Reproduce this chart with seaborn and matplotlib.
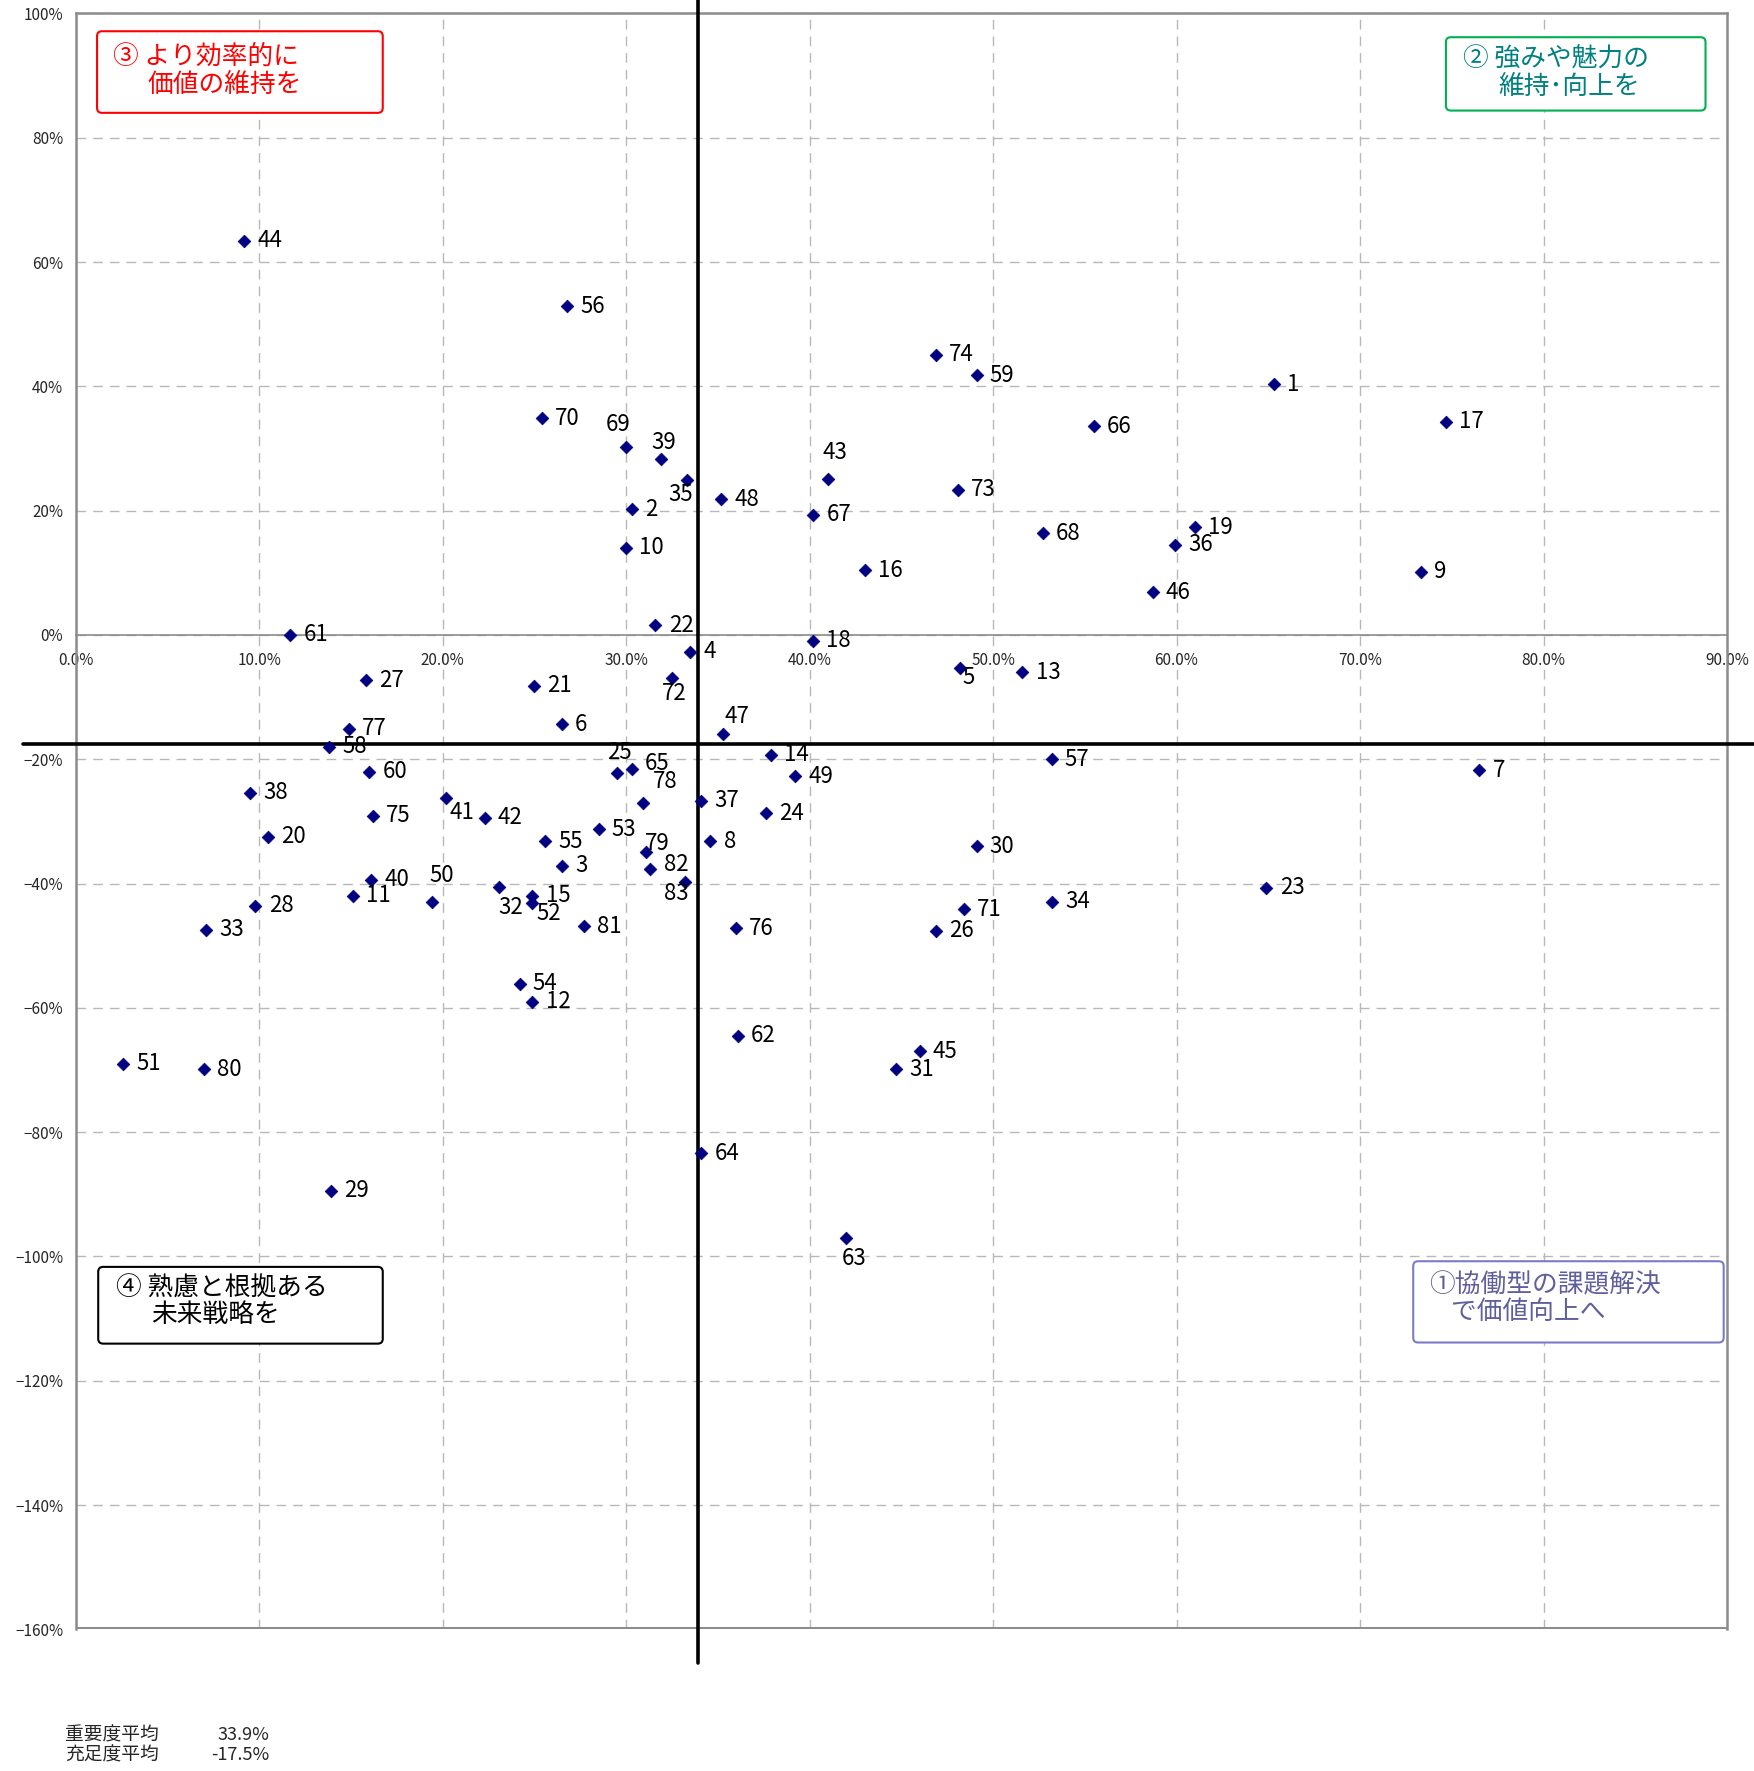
import numpy as np
import pandas as pd
import matplotlib
matplotlib.use("Agg")
import matplotlib.pyplot as plt
import seaborn as sns
from matplotlib.patches import FancyBboxPatch
from matplotlib.ticker import FuncFormatter

# item number, importance (x, %) and satisfaction (y, %)
item_no = list(range(1, 84))
importance = [65.3, 30.3, 26.5, 33.5, 48.2, 26.5, 76.5, 34.6, 73.3, 30.0,
              15.1, 24.9, 51.6, 37.9, 24.9, 43.0, 74.7, 40.2, 61.0, 10.5,
              25.0, 31.6, 64.9, 37.6, 29.5, 46.9, 15.8, 9.8, 13.9, 49.1,
              44.7, 23.1, 7.1, 53.2, 33.3, 59.9, 34.1, 9.5, 31.9, 16.1,
              20.2, 22.3, 41.0, 9.2, 46.0, 58.7, 35.3, 35.2, 39.2, 19.4,
              2.6, 24.9, 28.5, 24.2, 25.6, 26.8, 53.2, 13.8, 49.1, 16.0,
              11.7, 36.1, 42.0, 34.1, 30.3, 55.5, 40.2, 52.7, 30.0, 25.4,
              48.4, 32.5, 48.1, 46.9, 16.2, 36.0, 14.9, 30.9, 31.1, 7.0,
              27.7, 31.3, 33.2]
satisfaction = [40.3, 20.2, -37.1, -2.7, -5.3, -14.4, -21.8, -33.2, 10.2, 14.0,
                -42.0, -59.0, -6.0, -19.3, -42.0, 10.4, 34.3, -0.9, 17.3, -32.5,
                -8.2, 1.6, -40.7, -28.7, -22.2, -47.6, -7.3, -43.6, -89.4, -34.0,
                -69.9, -40.5, -47.4, -42.9, 24.9, 14.5, -26.7, -25.4, 28.3, -39.4,
                -26.3, -29.4, 25.1, 63.4, -67.0, 6.9, -16.0, 21.8, -22.7, -42.9,
                -69.0, -43.2, -31.3, -56.1, -33.2, 52.9, -20.0, -18.0, 41.8, -22.0,
                0.0, -64.5, -97.0, -83.4, -21.6, 33.6, 19.3, 16.4, 30.3, 34.9,
                -44.1, -6.9, 23.4, 45.1, -29.1, -47.2, -15.1, -27.1, -34.9, -69.9,
                -46.9, -37.6, -39.8]

importance_avg = 33.9
satisfaction_avg = -17.5

x_ticks = np.arange(0, 91, 10)
y_ticks = np.arange(-160, 101, 20)

# labels that do not sit on the right of their point: item -> offset in points (centred)
label_shift = {69: (-6, 16), 39: (2, 12), 35: (-4, -10), 43: (5, 19), 5: (6, -7),
               72: (2, -11), 63: (6, -15), 83: (-6, -8), 32: (8, -15), 52: (12, -7),
               50: (7, 19), 25: (2, 15), 65: (18, 4), 78: (16, 16), 79: (8, 6),
               82: (19, 3), 41: (11, -10), 47: (10, 13)}

df = pd.DataFrame({'no': item_no, 'importance': importance, 'satisfaction': satisfaction})

sns.set_theme(style="white")
plt.rcParams['font.family'] = ['Noto Sans CJK JP', 'DejaVu Sans']

fig = plt.figure(figsize=(17.54, 17.71), dpi=100)
ax = fig.add_axes([0.0431, 0.080, 0.9415, 0.9124])

sns.scatterplot(data=df, x='importance', y='satisfaction', marker='D', color='#000080',
                s=42, edgecolor='#000080', linewidth=0.5, ax=ax, zorder=5)

for n, x, y in zip(df['no'], df['importance'], df['satisfaction']):
    if n in label_shift:
        ax.annotate(str(n), (x, y), xytext=label_shift[n], textcoords='offset points',
                    ha='center', va='center', fontsize=16, color='black', zorder=6)
    else:
        ax.annotate(str(n), (x, y), xytext=(9.5, 0), textcoords='offset points',
                    ha='left', va='center', fontsize=16, color='black', zorder=6)

ax.set_xlim(x_ticks[0], x_ticks[-1])
ax.set_ylim(y_ticks[0], y_ticks[-1])
ax.set_xticks(x_ticks)
ax.set_yticks(y_ticks)
ax.xaxis.set_major_formatter(FuncFormatter(lambda v, p: f"{v:.1f}%"))
ax.yaxis.set_major_formatter(FuncFormatter(lambda v, p: f"{v:.0f}%".replace('-', '\u2212')))
ax.tick_params(axis='x', length=0, pad=12, labelsize=11)
ax.tick_params(axis='y', length=0, pad=9, labelsize=11)
ax.set_xlabel('')
ax.set_ylabel('')

ax.grid(True, linestyle=(0, (7, 5)), color='#b8b8b8', linewidth=1)
ax.set_axisbelow(True)

# x axis crosses at 0, frame drawn around the plot area
for side in ['top', 'left', 'right']:
    ax.spines[side].set_color('#8c8c8c')
    ax.spines[side].set_linewidth(1.8)
ax.spines['bottom'].set_position(('data', 0))
ax.spines['bottom'].set_color('#8c8c8c')
ax.spines['bottom'].set_linewidth(1.2)
ax.axhline(y_ticks[0], color='#8c8c8c', linewidth=3.6, zorder=3)

# average lines
ax.axvline(importance_avg, ymin=-0.021, ymax=1.0084, color='black', linewidth=2.6,
           clip_on=False, zorder=4)
ax.axhline(satisfaction_avg, xmin=-0.032, xmax=1.02, color='black', linewidth=2.6,
           clip_on=False, zorder=4)

# quadrant boxes
quadrants = [
    # (x0, y0, x1, y1, edge, text colour, line1, line2, tx1, tx2, ty1, ty2)
    (0.013, 0.9385, 0.186, 0.989, '#ff0000', '#ff0000', '③ より効率的に', '価値の維持を',
     0.0226, 0.0438, 0.9735, 0.9555),
    (0.8298, 0.9399, 0.987, 0.9853, '#00b050', '#008080', '② 強みや魅力の', '維持･向上を',
     0.8400, 0.8615, 0.9713, 0.9546),
    (0.0137, 0.1768, 0.186, 0.2243, '#000000', '#000000', '④ 熟慮と根拠ある', '未来戦略を',
     0.0246, 0.0458, 0.2110, 0.1943),
    (0.8100, 0.1775, 0.998, 0.2278, '#7b7bc8', '#5f5f9f', '①協働型の課題解決', 'で価値向上へ',
     0.8195, 0.8330, 0.2131, 0.1965),
]
for x0, y0, x1, y1, ec, tc, l1, l2, tx1, tx2, ty1, ty2 in quadrants:
    box = FancyBboxPatch((x0, y0), x1 - x0, y1 - y0, boxstyle="round,pad=0,rounding_size=0.003",
                         transform=ax.transAxes, facecolor='white', edgecolor=ec,
                         linewidth=1.5, zorder=7)
    ax.add_patch(box)
    ax.text(tx1, ty1, l1, transform=ax.transAxes, color=tc, fontsize=18.5,
            ha='left', va='center', zorder=8)
    ax.text(tx2, ty2, l2, transform=ax.transAxes, color=tc, fontsize=18.5,
            ha='left', va='center', zorder=8)

# footer with the averages
fig.text(0.0373, 0.0204, '重要度平均', fontsize=13.5, ha='left', va='center')
fig.text(0.1535, 0.0204, f"{importance_avg:.1f}%", fontsize=13, ha='right', va='center')
fig.text(0.0373, 0.0089, '充足度平均', fontsize=13.5, ha='left', va='center')
fig.text(0.1535, 0.0089, f"{satisfaction_avg:.1f}%", fontsize=13, ha='right', va='center')

fig.savefig('out.png', dpi=100)
